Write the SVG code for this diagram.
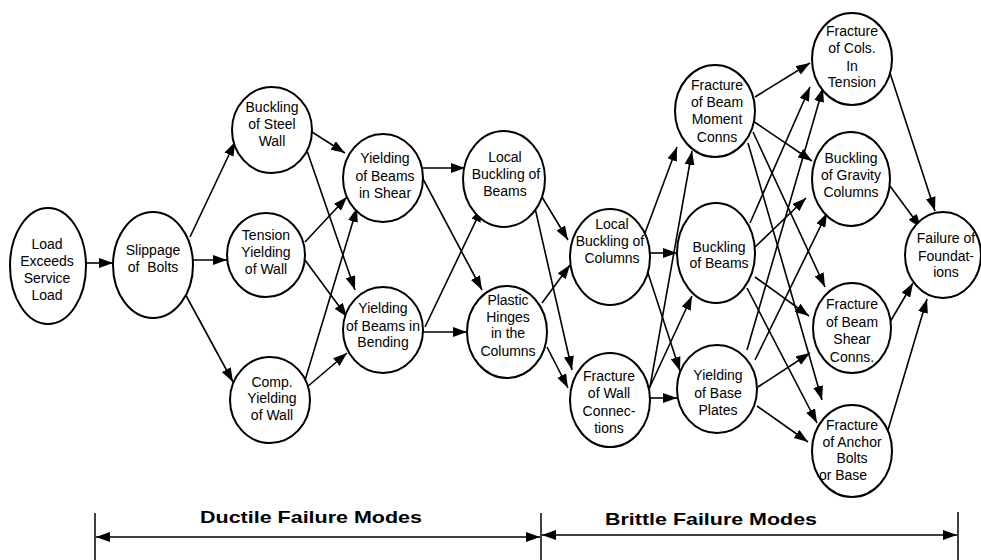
<svg xmlns="http://www.w3.org/2000/svg" width="981" height="560" viewBox="0 0 981 560">
<style>
.nd ellipse{fill:#fff;stroke:#000;stroke-width:2}
.nd text{font-family:"Liberation Sans",Arial,sans-serif;font-size:14px;text-anchor:middle;fill:#000}
#edges line{stroke:#000;stroke-width:1.6;marker-end:url(#ah)}
.scale line{stroke:#000;stroke-width:1.5}
.lbl{font-family:"Liberation Sans",Arial,sans-serif;font-size:17px;font-weight:bold;text-anchor:middle;fill:#000}
</style>
<defs>
<marker id="ah" viewBox="0 0 14 10" refX="14" refY="5" markerWidth="14" markerHeight="10" markerUnits="userSpaceOnUse" orient="auto-start-reverse">
<path d="M0,0 L14,5 L0,10 z" fill="#000"/>
</marker>
</defs>
<rect width="981" height="560" fill="#fff"/>
<g id="edges">
<line x1="86" y1="263" x2="113" y2="263"/>
<line x1="190" y1="237" x2="235" y2="142"/>
<line x1="193" y1="260" x2="227" y2="260"/>
<line x1="183" y1="290" x2="233" y2="382"/>
<line x1="312" y1="132" x2="345" y2="153"/>
<line x1="305" y1="145" x2="355" y2="290"/>
<line x1="305" y1="242" x2="347" y2="197"/>
<line x1="305" y1="260" x2="347" y2="317"/>
<line x1="303" y1="387" x2="357" y2="208"/>
<line x1="300" y1="393" x2="347" y2="353"/>
<line x1="423" y1="168" x2="465" y2="168"/>
<line x1="422" y1="177" x2="482" y2="290"/>
<line x1="425" y1="327" x2="482" y2="208"/>
<line x1="423" y1="332" x2="467" y2="332"/>
<line x1="542" y1="197" x2="568" y2="240"/>
<line x1="535" y1="208" x2="572" y2="370"/>
<line x1="542" y1="303" x2="570" y2="265"/>
<line x1="547" y1="347" x2="568" y2="388"/>
<line x1="645" y1="233" x2="677" y2="147"/>
<line x1="650" y1="253" x2="677" y2="253"/>
<line x1="647" y1="270" x2="680" y2="371"/>
<line x1="650" y1="387" x2="692" y2="151"/>
<line x1="648" y1="391" x2="692" y2="296"/>
<line x1="650" y1="398" x2="677" y2="398"/>
<line x1="755" y1="97" x2="810" y2="63"/>
<line x1="753" y1="121" x2="812" y2="161"/>
<line x1="753" y1="132" x2="825" y2="287"/>
<line x1="748" y1="143" x2="822" y2="400"/>
<line x1="750" y1="223" x2="810" y2="87"/>
<line x1="755" y1="247" x2="806" y2="198"/>
<line x1="755" y1="277" x2="809" y2="316"/>
<line x1="747" y1="288" x2="817" y2="423"/>
<line x1="747" y1="350" x2="823" y2="88"/>
<line x1="755" y1="360" x2="827" y2="213"/>
<line x1="758" y1="387" x2="810" y2="353"/>
<line x1="757" y1="406" x2="808" y2="442"/>
<line x1="890" y1="73" x2="935" y2="211"/>
<line x1="887" y1="182" x2="921" y2="228"/>
<line x1="890" y1="322" x2="913" y2="283"/>
<line x1="888" y1="430" x2="927" y2="299"/>
</g>
<g id="n1" class="nd"><ellipse cx="48" cy="266" rx="38" ry="58"/><text x="47" y="249">Load</text><text x="47" y="266">Exceeds</text><text x="47" y="283">Service</text><text x="47" y="300">Load</text></g>
<g id="n2" class="nd"><ellipse cx="153" cy="265" rx="40" ry="53"/><text x="153" y="255">Slippage</text><text x="153" y="272" style="white-space:pre">of  Bolts</text></g>
<g id="n3" class="nd"><ellipse cx="272" cy="130" rx="40" ry="43"/><text x="272" y="112">Buckling</text><text x="272" y="129">of Steel</text><text x="272" y="146">Wall</text></g>
<g id="n4" class="nd"><ellipse cx="266" cy="255" rx="39" ry="42"/><text x="266" y="240">Tension</text><text x="266" y="257">Yielding</text><text x="266" y="274">of Wall</text></g>
<g id="n5" class="nd"><ellipse cx="270" cy="400" rx="40" ry="43"/><text x="272" y="387">Comp.</text><text x="272" y="403">Yielding</text><text x="272" y="420">of Wall</text></g>
<g id="n6" class="nd"><ellipse cx="383" cy="178" rx="40" ry="44"/><text x="385" y="163">Yielding</text><text x="385" y="181">of Beams</text><text x="385" y="198">in Shear</text></g>
<g id="n7" class="nd"><ellipse cx="383" cy="330" rx="40" ry="43"/><text x="383" y="313">Yielding</text><text x="383" y="331">of Beams in</text><text x="383" y="347">Bending</text></g>
<g id="n8" class="nd"><ellipse cx="504" cy="179" rx="41" ry="48"/><text x="505" y="162">Local</text><text x="506" y="179">Buckling of</text><text x="505" y="196">Beams</text></g>
<g id="n9" class="nd"><ellipse cx="507" cy="332" rx="40" ry="46"/><text x="508" y="305">Plastic</text><text x="508" y="322">Hinges</text><text x="508" y="338">in the</text><text x="508" y="356">Columns</text></g>
<g id="n10" class="nd"><ellipse cx="610" cy="257" rx="40" ry="48"/><text x="612" y="229">Local</text><text x="610" y="246">Buckling of</text><text x="612" y="263">Columns</text></g>
<g id="n11" class="nd"><ellipse cx="610" cy="400" rx="40" ry="47"/><text x="609" y="381">Fracture</text><text x="609" y="398">of Wall</text><text x="609" y="416">Connec-</text><text x="609" y="433">tions</text></g>
<g id="n12" class="nd"><ellipse cx="715" cy="111" rx="40" ry="46"/><text x="717" y="90">Fracture</text><text x="717" y="107">of Beam</text><text x="717" y="124">Moment</text><text x="717" y="142">Conns</text></g>
<g id="n13" class="nd"><ellipse cx="716" cy="253" rx="39" ry="50"/><text x="719" y="252">Buckling</text><text x="719" y="268">of Beams</text></g>
<g id="n14" class="nd"><ellipse cx="717" cy="389" rx="40" ry="44"/><text x="718" y="380">Yielding</text><text x="718" y="398">of Base</text><text x="718" y="415">Plates</text></g>
<g id="n15" class="nd"><ellipse cx="852" cy="59" rx="40" ry="46"/><text x="852" y="36">Fracture</text><text x="852" y="53">of Cols.</text><text x="852" y="71">In</text><text x="852" y="87">Tension</text></g>
<g id="n16" class="nd"><ellipse cx="851" cy="179" rx="39" ry="47"/><text x="851" y="163">Buckling</text><text x="851" y="180">of Gravity</text><text x="851" y="197">Columns</text></g>
<g id="n17" class="nd"><ellipse cx="852" cy="328" rx="39" ry="45"/><text x="852" y="309">Fracture</text><text x="852" y="327">of Beam</text><text x="852" y="344">Shear</text><text x="852" y="362">Conns.</text></g>
<g id="n18" class="nd"><ellipse cx="852" cy="451" rx="40" ry="46"/><text x="852" y="430">Fracture</text><text x="852" y="447">of Anchor</text><text x="852" y="463">Bolts</text><text x="843" y="480">or Base</text></g>
<g id="n19" class="nd"><ellipse cx="943" cy="255" rx="38" ry="43"/><text x="946" y="243">Failure of</text><text x="946" y="261">Foundat-</text><text x="946" y="277">ions</text></g>
<g id="scale" class="scale">
<line x1="95" y1="513" x2="95" y2="560"/>
<line x1="541" y1="513" x2="541" y2="560"/>
<line x1="958" y1="512" x2="958" y2="560"/>
<line x1="96" y1="537" x2="540" y2="537" marker-start="url(#ah)" marker-end="url(#ah)"/>
<line x1="542" y1="535" x2="957" y2="535" marker-start="url(#ah)" marker-end="url(#ah)"/>
<text class="lbl" x="311" y="523" textLength="222" lengthAdjust="spacingAndGlyphs">Ductile Failure Modes</text>
<text class="lbl" x="711" y="525" textLength="212" lengthAdjust="spacingAndGlyphs">Brittle Failure Modes</text>
</g>
</svg>
